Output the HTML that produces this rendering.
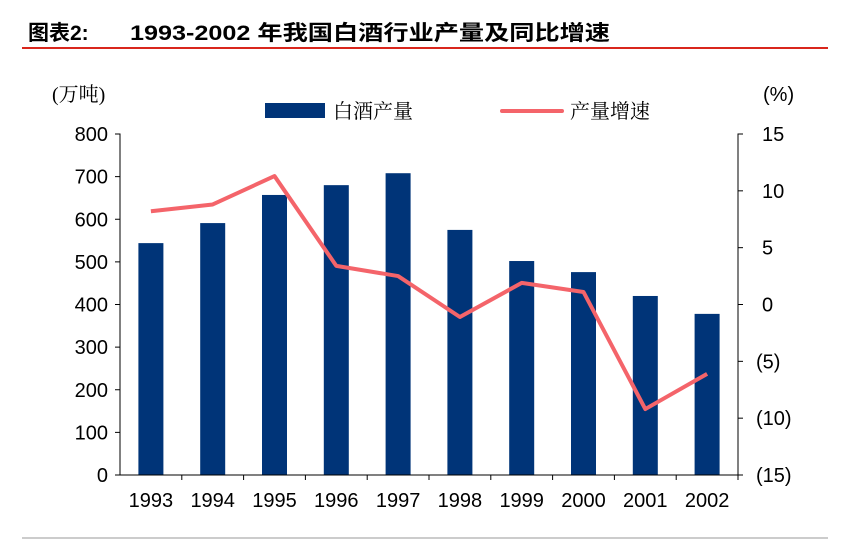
<!DOCTYPE html>
<html><head><meta charset="utf-8"><style>
body{margin:0;background:#fff;width:843px;height:544px;overflow:hidden;font-family:"Liberation Sans","Noto Sans CJK SC",sans-serif}
</style></head><body>
<svg width="843" height="544" xmlns="http://www.w3.org/2000/svg">
<text x="28" y="40" font-size="21" font-weight="bold" font-family="Liberation Sans,Noto Sans CJK SC,sans-serif"><tspan>图表2:</tspan><tspan x="130" textLength="480" lengthAdjust="spacingAndGlyphs">1993-2002 年我国白酒行业产量及同比增速</tspan></text>
<line x1="22" y1="48" x2="828" y2="48" stroke="#d9261c" stroke-width="2"/>
<line x1="22" y1="538" x2="828" y2="538" stroke="#999" stroke-width="1"/>
<text x="52" y="101" font-size="20" font-family="Liberation Serif,Noto Serif CJK SC,serif">(万吨)</text>
<text x="763" y="101" font-size="20">(%)</text>
<rect x="265" y="103" width="60" height="15" fill="#003478"/>
<text x="333" y="118" font-size="20" font-family="Liberation Serif,Noto Serif CJK SC,serif">白酒产量</text>
<line x1="502" y1="111" x2="562" y2="111" stroke="#f4646a" stroke-width="4" stroke-linecap="round"/>
<text x="570" y="118" font-size="20" font-family="Liberation Serif,Noto Serif CJK SC,serif">产量增速</text>
<g id="plot"></g>
</svg>
<script>
const categories=["1993","1994","1995","1996","1997","1998","1999","2000","2001","2002"];
const production=[544,591,657,680,708,575,502,476,420,378];
const growth=[8.2,8.8,11.3,3.4,2.5,-1.1,1.9,1.1,-9.2,-6.1];
const leftTicks=[0,100,200,300,400,500,600,700,800];
const rightTicks=[15,10,5,0,-5,-10,-15];
const rightLabels=["15","10","5","0","(5)","(10)","(15)"];
const NS="http://www.w3.org/2000/svg";
const g=document.getElementById('plot');
const X0=120,X1=738,Y0=475,Y1=134;
const yL=v=>Y0-(v/800)*(Y0-Y1);
const yR=v=>Y0-((v+15)/30)*(Y0-Y1);
const bw=(X1-X0)/categories.length;
const xC=i=>X0+bw*(i+0.5);
function mk(t,a){const e=document.createElementNS(NS,t);for(const k in a)e.setAttribute(k,a[k]);g.appendChild(e);return e;}
categories.forEach((c,i)=>{
 const r=mk('rect',{x:xC(i)-12.5,y:yL(production[i]),width:25,height:Y0-yL(production[i]),fill:'#003478'});
 
 
 const t=mk('text',{x:xC(i),y:507,'font-size':20,'text-anchor':'middle'});t.textContent=c;
 
 
 const tk=mk('line',{x1:X0+bw*(i+1),y1:Y0,x2:X0+bw*(i+1),y2:Y0+5,stroke:'#000'});
 
 
});
const ax=mk('path',{d:`M${X0-5},${Y1}H${X0}V${Y0}H${X1}V${Y1}H${X1+5}`,fill:'none',stroke:'#000','stroke-width':1});


leftTicks.forEach(v=>{
 const l=mk('line',{x1:X0-5,y1:yL(v),x2:X0,y2:yL(v),stroke:'#000'});
 
 
 const t=mk('text',{x:X0-12,y:yL(v)+7,'font-size':20,'text-anchor':'end'});t.textContent=v;
 
 
});
rightTicks.forEach((v,i)=>{
 const l=mk('line',{x1:X1,y1:yR(v),x2:X1+5,y2:yR(v),stroke:'#000'});
 
 
 const t=mk('text',{x:rightLabels[i].startsWith('(')?756:762,y:yR(v)+7,'font-size':20});t.textContent=rightLabels[i];
 
 
});
const pl=mk('polyline',{points:growth.map((v,i)=>xC(i)+','+yR(v)).join(' '),fill:'none',stroke:'#f4646a','stroke-width':4,'stroke-linejoin':'round'});


</script>
</body></html>
